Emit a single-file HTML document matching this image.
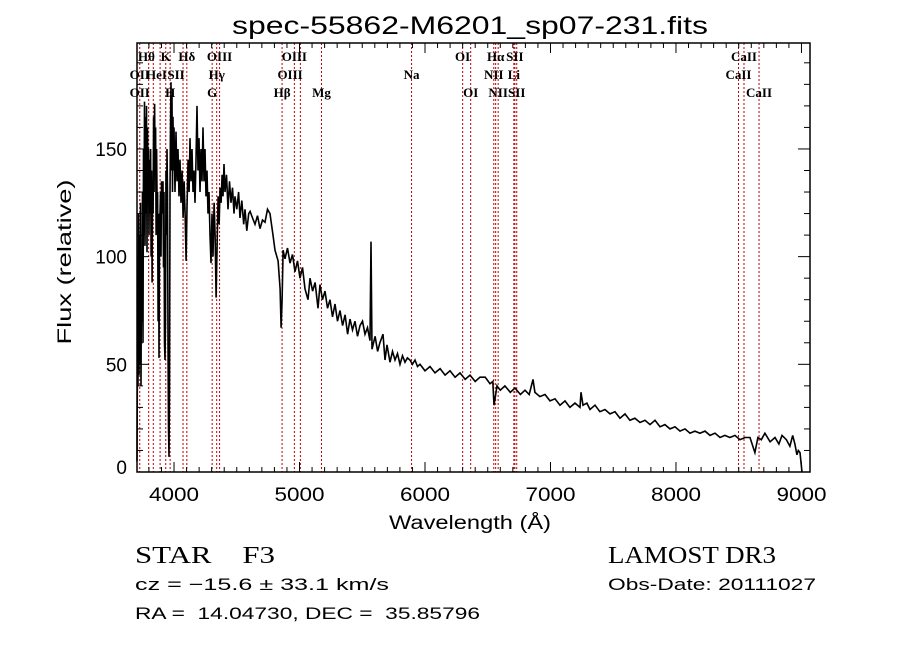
<!DOCTYPE html>
<html><head><meta charset="utf-8">
<style>
html,body{margin:0;padding:0;background:#fff;}
svg{display:block;}
text{white-space:pre;}
</style></head>
<body>
<svg id="chart" width="900" height="649" viewBox="0 0 900 649" xmlns="http://www.w3.org/2000/svg" xml:space="preserve">
<rect width="900" height="649" fill="#fff"/>
<text x="470" y="34" font-family="Liberation Sans, sans-serif" font-size="25" text-anchor="middle" textLength="476" lengthAdjust="spacingAndGlyphs">spec-55862-M6201_sp07-231.fits</text>
<g id="lines"></g>
<g id="series"></g>
<g id="axes"></g>
<text x="470" y="529" font-family="Liberation Sans, sans-serif" font-size="19" text-anchor="middle" textLength="162" lengthAdjust="spacingAndGlyphs">Wavelength (Å)</text>
<text transform="translate(71,262) rotate(-90)" font-family="Liberation Sans, sans-serif" font-size="19" text-anchor="middle" textLength="165" lengthAdjust="spacingAndGlyphs">Flux (relative)</text>
<text x="135" y="563" font-family="Liberation Serif, serif" font-size="24" textLength="140" lengthAdjust="spacingAndGlyphs">STAR    F3</text>
<text x="608" y="563" font-family="Liberation Serif, serif" font-size="24" textLength="168" lengthAdjust="spacingAndGlyphs">LAMOST DR3</text>
<text x="135" y="590" font-family="Liberation Sans, sans-serif" font-size="17" textLength="254" lengthAdjust="spacingAndGlyphs">cz = −15.6 ± 33.1 km/s</text>
<text x="608" y="590" font-family="Liberation Sans, sans-serif" font-size="17" textLength="208" lengthAdjust="spacingAndGlyphs">Obs-Date: 20111027</text>
<text x="135" y="619" font-family="Liberation Sans, sans-serif" font-size="17" textLength="345" lengthAdjust="spacingAndGlyphs">RA =  14.04730, DEC =  35.85796</text>
</svg>
<script>
const wavelengths = [3705,3709,3713,3717,3721,3725,3729,3733,3737,3741,3745,3749,3753,3757,3761,3765,3769,3773,3777,3781,3785,3789,3793,3797,3801,3805,3809,3813,3817,3821,3825,3829,3833,3837,3841,3845,3849,3853,3857,3861,3865,3869,3873,3877,3880,3884,3888,3892,3896,3900,3904,3908,3912,3916,3920,3924,3928,3932,3936,3940,3944,3948,3952,3956,3960,3964,3968,3972,3976,3980,3984,3988,3992,3996,4000,4008,4016,4024,4032,4040,4048,4056,4064,4072,4080,4088,4096,4104,4112,4120,4127,4135,4143,4151,4159,4167,4175,4183,4191,4199,4207,4215,4223,4231,4239,4247,4255,4263,4271,4279,4287,4295,4303,4311,4319,4327,4335,4343,4351,4359,4367,4375,4383,4390,4398,4406,4418,4430,4442,4454,4466,4478,4486,4500,4515,4526,4540,4555,4566,4580,4595,4606,4625,4645,4665,4685,4705,4725,4745,4765,4789,4805,4829,4845,4853,4861,4869,4884,4904,4924,4944,4964,4984,5004,5024,5044,5068,5084,5104,5124,5147,5163,5183,5203,5223,5243,5263,5283,5303,5323,5343,5363,5383,5402,5422,5442,5462,5482,5502,5522,5542,5562,5570,5578,5602,5622,5641,5665,5681,5697,5721,5741,5761,5781,5801,5821,5841,5860,5880,5900,5920,5940,5960,6000,6040,6080,6120,6160,6199,6240,6279,6320,6359,6400,6438,6480,6518,6540,6550,6574,6600,6637,6680,6717,6760,6797,6830,6861,6876,6916,6956,6996,7036,7076,7116,7155,7195,7235,7243,7259,7290,7315,7355,7394,7434,7474,7514,7554,7594,7633,7673,7713,7753,7793,7833,7873,7912,7952,7992,8032,8072,8112,8151,8191,8231,8271,8311,8351,8390,8430,8470,8510,8550,8590,8629,8653,8680,8709,8750,8789,8820,8845,8880,8908,8930,8948,8964,8975,8988,9004];
const fluxes = [5,60,40,120,45,110,50,125,40,100,70,130,60,150,110,172,105,165,120,170,102,160,140,150,110,145,120,150,100,140,88,135,120,165,130,171,140,160,110,150,125,130,70,120,53,110,120,130,100,135,131,120,135,95,130,60,52,70,140,110,150,130,60,20,7,40,130,160,181,140,175,130,165,140,160,130,158,135,150,128,145,125,140,118,135,120,98,125,145,130,155,135,150,130,140,125,145,170,140,155,130,150,135,160,135,150,128,140,120,130,110,97,120,100,125,110,81,105,128,115,132,125,138,128,143,130,138,122,135,125,132,120,128,122,130,118,126,115,122,112,120,121,118,115,119,113,117,116,122,120,110,103,98,85,67,80,103,99,104,97,101,93,98,90,95,85,80,90,84,88,76,87,80,84,76,80,72,78,70,75,68,73,64,71,66,70,63,68,70,64,67,61,107,57,63,56,60,64,52,59,51,56,52,55,50,54,51,53,52,50,52,49,50,47,49,46,48,45,47,44,46,43,45,42,44,44,41,42,31,40,38,40,37,39,36,38,36,43,37,35,36,33,34,31,33,30,32,30,37,31,32,29,31,28,29,27,28,25,27,24,25,23,24,22,24,21,22,20,21,19,20,18,19,18,19,17,18,16,17,16,17,15,16,16,9,16,15,18,14,16,13,17,15,12,17,13,8,10,9,0];
const lineWaves = [3727,3798,3835,3889,3934,3969,4072,4102,4304,4340,4363,4861,4959,5007,5175,5893,6300,6364,6548,6563,6583,6708,6716,6731,8498,8542,8662];
const labelTexts = ["OII","Hθ","OII","HeI","K","H","SII","Hδ","G","Hγ","OIII","Hβ","OIII","OIII","Mg","Na","OI","OI","NII","Hα","NII","Li","SII","SII","CaII","CaII","CaII"];
const labelRows = [1,0,2,1,0,2,1,0,2,1,0,2,1,0,2,1,0,2,1,0,2,1,0,2,1,0,2];
const labelAnchorWaves = [3727,3780,3727,3860,3934,3969,4016,4102,4304,4340,4363,4861,4925,4959,5175,5893,6300,6364,6548,6563,6583,6708,6716,6731,8498,8542,8662];
const xTicks = [4000,5000,6000,7000,8000,9000];
const yTicks = [0,50,100,150];

const NS="http://www.w3.org/2000/svg";
const L=137,R=810,T=43,B=472;
const xMin=3705,xMax=9068,yMin=0,yMax=199.2;
function xs(w){return L+(w-xMin)/(xMax-xMin)*(R-L);}
function ys(f){return B-(f-yMin)/(yMax-yMin)*(B-T);}
function mk(tag,attrs,parent){const e=document.createElementNS(NS,tag);for(const k in attrs)e.setAttribute(k,attrs[k]);parent.appendChild(e);return e;}

const gl=document.getElementById('lines');
lineWaves.forEach((w,i)=>{
  const ln=mk('line',{x1:xs(w),x2:xs(w),y1:T,y2:B,stroke:'#c00000','stroke-width':1,'stroke-dasharray':'2,2'},gl);
  
  
});
const rowY=[61,79,97];
labelTexts.forEach((t,i)=>{
  const tx=mk('text',{x:xs(labelAnchorWaves[i]),y:rowY[labelRows[i]],'font-family':'Liberation Serif, serif','font-size':13,'font-weight':'bold','text-anchor':'middle'},gl);
  tx.textContent=t;
  
  
});

const gs=document.getElementById('series');
let d='';
wavelengths.forEach((w,i)=>{d+=(i?'L':'M')+xs(w).toFixed(1)+','+ys(fluxes[i]).toFixed(1);});
const p=mk('path',{d:d,fill:'none',stroke:'#000','stroke-width':1.6,'stroke-linejoin':'miter'},gs);



const ga=document.getElementById('axes');
const frame=mk('rect',{x:L,y:T,width:R-L,height:B-T,fill:'none',stroke:'#000','stroke-width':1.5},ga);


for(let w=3800;w<=9000;w+=100){
  const major=(w%1000===0);const len=major?10:5;const x=xs(w);
  mk('line',{x1:x,x2:x,y1:B,y2:B-len,stroke:'#000','stroke-width':1},ga);
  mk('line',{x1:x,x2:x,y1:T,y2:T+len,stroke:'#000','stroke-width':1},ga);
}
for(let f=10;f<=190;f+=10){
  const major=(f%50===0);const len=major?12:6;const y=ys(f);
  mk('line',{x1:L,x2:L+len,y1:y,y2:y,stroke:'#000','stroke-width':1},ga);
  mk('line',{x1:R,x2:R-len,y1:y,y2:y,stroke:'#000','stroke-width':1},ga);
}
xTicks.forEach(w=>{
  const t=mk('text',{x:xs(w),y:501,'font-family':'Liberation Sans, sans-serif','font-size':19,'text-anchor':'middle',textLength:50,lengthAdjust:'spacingAndGlyphs'},ga);
  t.textContent=w;
  
  
});
yTicks.forEach(f=>{
  const t=mk('text',{x:127,y:Math.min(ys(f)+7,474),'font-family':'Liberation Sans, sans-serif','font-size':19,'text-anchor':'end'},ga);
  t.textContent=f;
  
  
});
</script>
</body></html>
